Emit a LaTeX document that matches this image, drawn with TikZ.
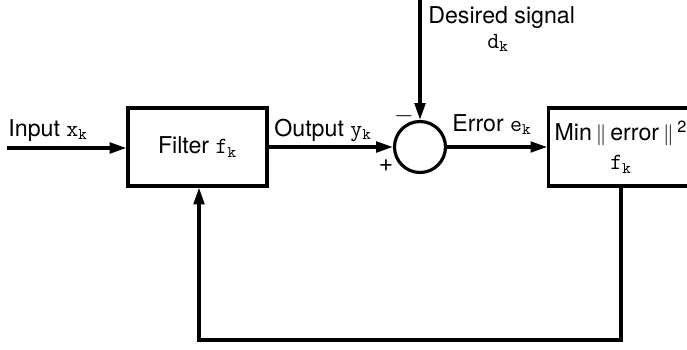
\documentclass[tikz,border=0pt]{standalone}
\usepackage{fontspec}
\setmainfont{TeX Gyre Heros}
\usepackage{tikz}
\usetikzlibrary{arrows.meta, positioning}
\newcommand{\sig}[2]{\texttt{#1}\textsubscript{\texttt{#2}}}
\tikzset{
  block/.style={rectangle, draw=black, minimum width=2.78cm,
    minimum height=1.56cm, align=center, line width=1.8pt,
    font=\fontsize{13.2}{17}\selectfont},
  sumjunc/.style={circle, draw=black, minimum size=1.02cm, line width=1.8pt},
  arrow/.style={-{Triangle[length=9.5pt, width=6pt]}, line width=1.8pt},
  line/.style={line width=1.8pt},
  lbl/.style={font=\fontsize{13.2}{16}\selectfont, inner sep=0pt},
  sign/.style={font=\fontsize{14}{16}\selectfont, inner sep=0pt}
}

\begin{document}
\begin{tikzpicture}[x=0.02cm, y=-0.02cm]
  \clip (0,0) rectangle (687,349);

  % Blocks
  \node[block] (filter) at (197.5,147) {Filter \sig{f}{k}};
  \node[sumjunc] (sum) at (420,147) {};
  \node[block] (minbox) at (621,147) {Min\,$\|$\,error\,$\|$\,\textsuperscript{2}\\\sig{f}{k}};

  % Free ends
  \coordinate (in) at (7,148);
  \coordinate (dtop) at (420,-5);
  \coordinate (fb) at (199,340);

  % Labels
  \node[lbl, anchor=base west] (inlbl) at (8,136) {Input \sig{x}{k}};
  \node[lbl, anchor=base west] (outlbl) at (274,136) {Output \sig{y}{k}};
  \node[lbl, anchor=base west] (errlbl) at (452,131) {Error \sig{e}{k}};
  \node[lbl, anchor=base west] (deslbl) at (428,23) {Desired signal};
  \node[lbl] (dlbl) at (498,43) {\sig{d}{k}};
  \node[sign] (minus) at (404,116) {$-$};
  \node[sign] (plus) at (386,166) {+};

  % Arrows
  \draw[arrow] (in) -- (filter.west |- in);
  \draw[arrow] (filter.east |- sum) -- (sum.west);
  \draw[arrow] (dtop) -- (sum.north);
  \draw[arrow] (sum.east) -- (minbox.west |- sum);
  \draw[arrow] (minbox.south) |- (fb) -- (fb |- filter.south);
\end{tikzpicture}
\end{document}
